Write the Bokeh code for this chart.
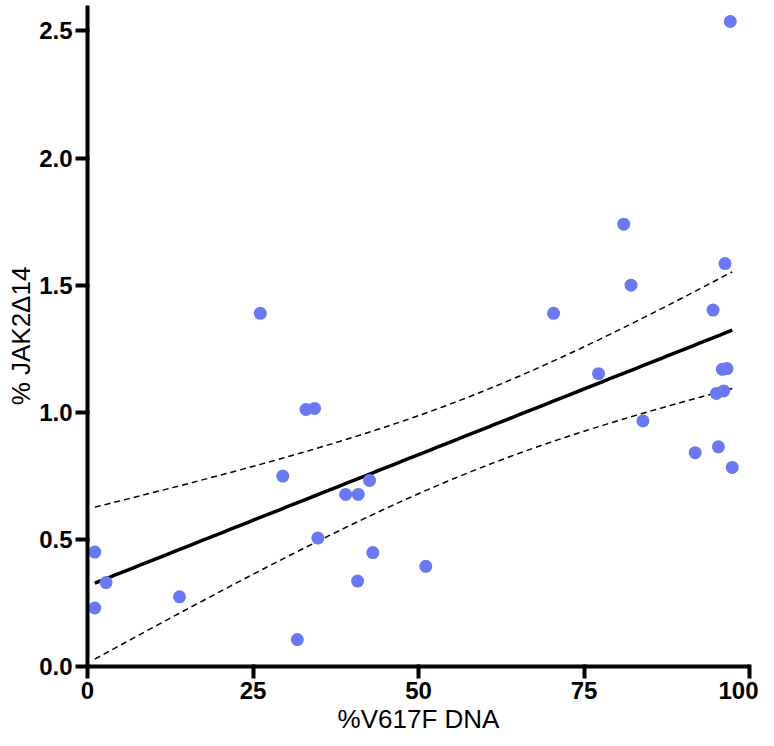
import numpy as np
from bokeh.plotting import figure
from bokeh.models import Range1d, FixedTicker
from bokeh.embed import file_html
from bokeh.resources import INLINE

# Data
v617f_dna = [97.1, 81.0, 96.3, 82.1, 70.4, 94.5, 77.2, 95.9, 96.6, 95.0, 96.1,
             83.9, 91.8, 95.3, 97.4, 26.1, 33.0, 34.3, 29.5, 42.6, 39.0, 40.9,
             34.8, 43.1, 51.1, 40.8, 31.7, 1.1, 2.8, 1.1, 13.9]
jak2_d14 = [2.537, 1.74, 1.585, 1.50, 1.389, 1.402, 1.152, 1.169, 1.172, 1.074, 1.084,
            0.966, 0.841, 0.864, 0.783, 1.389, 1.011, 1.015, 0.749, 0.732, 0.677, 0.677,
            0.505, 0.448, 0.394, 0.336, 0.106, 0.45, 0.330, 0.230, 0.274]
x_ticks = [0, 25, 50, 75, 100]
y_ticks = [0.0, 0.5, 1.0, 1.5, 2.0, 2.5]
y_tick_labels = {0.0: "0.0", 0.5: "0.5", 1.0: "1.0", 1.5: "1.5", 2.0: "2.0", 2.5: "2.5"}

# Linear regression with 95% confidence band
x = np.array(v617f_dna)
y = np.array(jak2_d14)
n = len(x)
slope, intercept = np.polyfit(x, y, 1)
resid = y - (intercept + slope * x)
s = np.sqrt(np.sum(resid ** 2) / (n - 2))
xbar = x.mean()
sxx = np.sum((x - xbar) ** 2)
t_val = 2.045
xg = np.linspace(x.min(), x.max(), 100)
yg = intercept + slope * xg
half = t_val * s * np.sqrt(1.0 / n + (xg - xbar) ** 2 / sxx)

p = figure(width=758, height=736, output_backend="svg", toolbar_location=None,
           x_range=Range1d(0, 100), y_range=Range1d(0, 2.60),
           min_border_left=87, min_border_right=9, min_border_top=5,
           min_border_bottom=70)
# keep grid and outline rendered but invisible
p.outline_line_alpha = 0.01
p.xgrid.grid_line_alpha = 0.01
p.ygrid.grid_line_alpha = 0.01

p.line(xg, yg + half, line_color="black", line_width=1.5, line_dash="6 4")
p.line(xg, yg - half, line_color="black", line_width=1.5, line_dash="6 4")
p.line(xg, yg, line_color="black", line_width=3.5)
p.scatter(v617f_dna, jak2_d14, size=13, fill_color="#6b78f4", line_color=None)

p.xaxis.ticker = FixedTicker(ticks=x_ticks)
p.yaxis.ticker = FixedTicker(ticks=y_ticks)
p.yaxis.major_label_overrides = y_tick_labels
p.xaxis.axis_label = "%V617F DNA"
p.yaxis.axis_label = "% JAK2Δ14"

p.xaxis.axis_line_width = 4
p.yaxis.axis_line_width = 4
p.xaxis.major_tick_out = 12
p.yaxis.major_tick_out = 12
p.xaxis.major_tick_line_width = 4
p.yaxis.major_tick_line_width = 4
p.axis.major_label_text_font = "Liberation Sans"
p.axis.major_label_text_font_style = "bold"
p.axis.major_label_text_font_size = "24px"
p.axis.major_label_text_color = "black"
p.axis.axis_label_text_font = "Liberation Sans"
p.axis.axis_label_text_font_style = "normal"
p.axis.axis_label_text_font_size = "26px"
p.axis.axis_label_text_color = "black"
p.axis.major_label_standoff = 3
p.xaxis.axis_label_standoff = 2
p.yaxis.axis_label_standoff = 0

open("out.html", "w").write(file_html(p, INLINE))
